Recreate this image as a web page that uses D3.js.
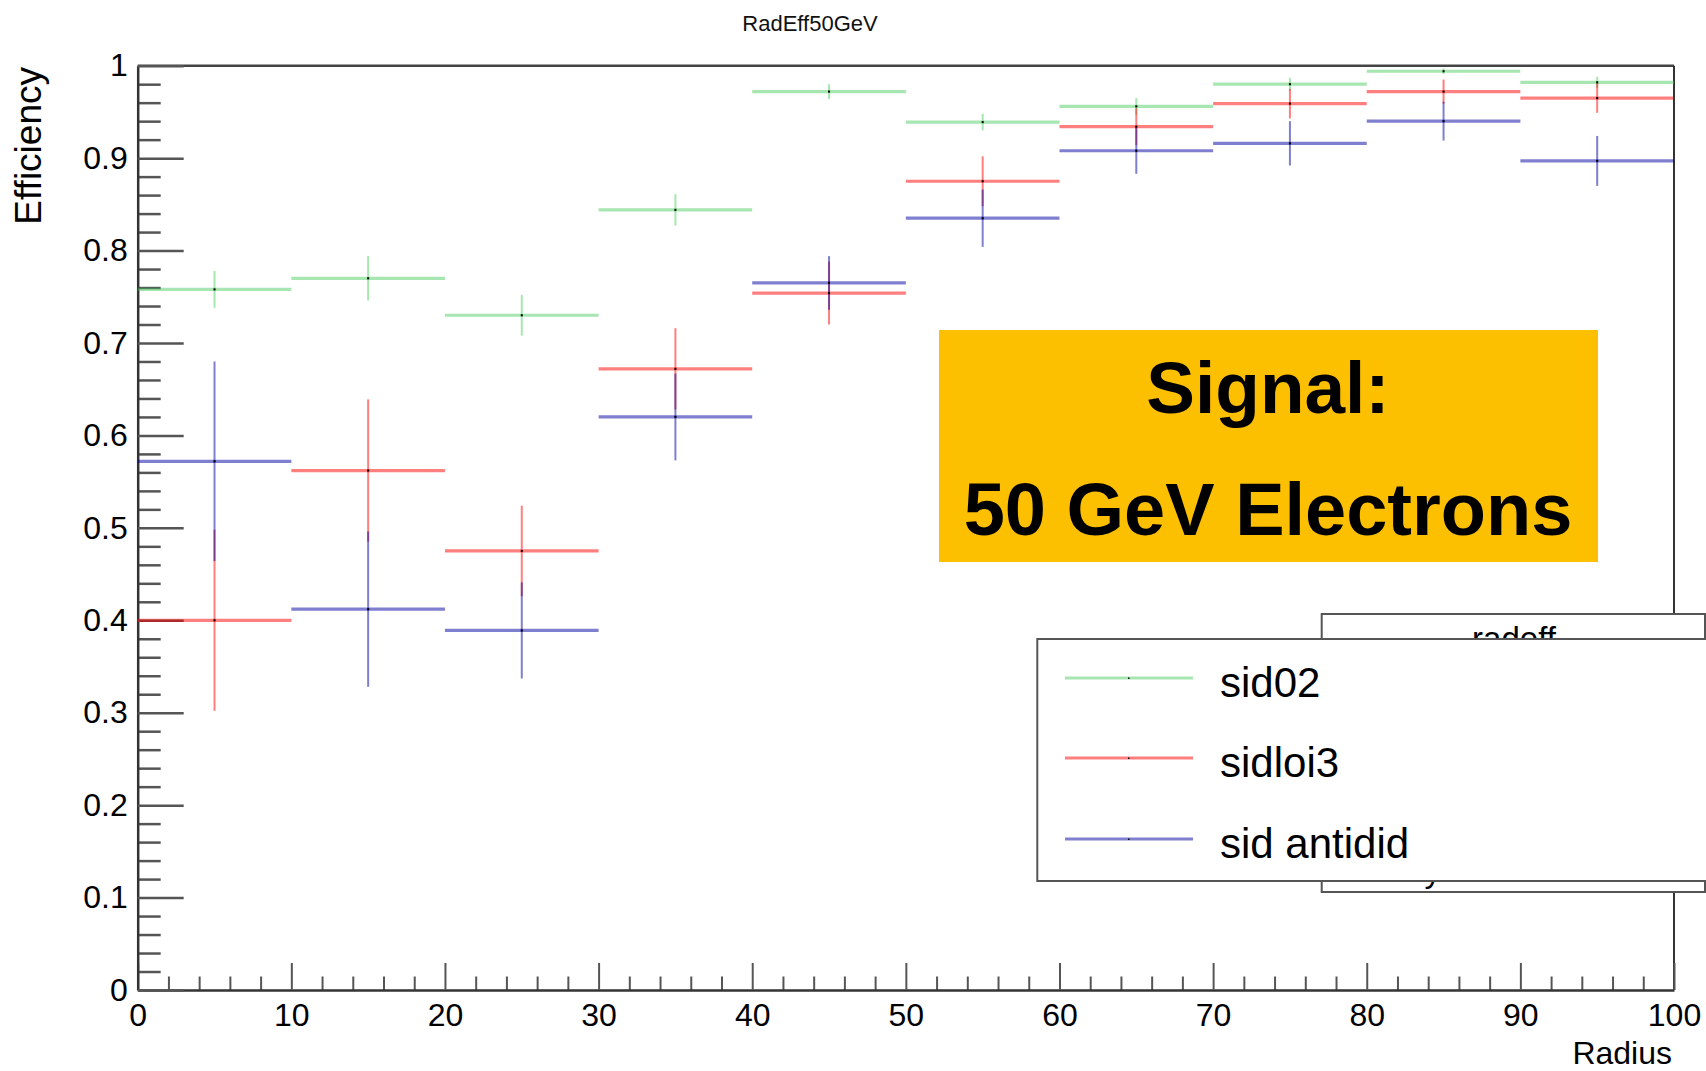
<!DOCTYPE html>
<html>
<head>
<meta charset="utf-8">
<script src="https://cdn.jsdelivr.net/npm/d3@7"></script>
<style>
  html, body { margin: 0; padding: 0; background: #fff; }
  svg { display: block; }
  text { font-family: "Liberation Sans", Arial, Helvetica, sans-serif; }
</style>
</head>
<body>
<svg id="chart" width="1706" height="1071"></svg>
<script>
// ---- data ----
const binLow = [0, 10, 20, 30, 40, 50, 60, 70, 80, 90];
const binWidth = 10;
const seriesNames = ["sid02", "sidloi3", "sid antidid"];
const sid02 = [0.758, 0.770, 0.730, 0.844, 0.972, 0.939, 0.956, 0.980, 0.994, 0.982];
const sid02Err = [0.020, 0.024, 0.022, 0.017, 0.008, 0.009, 0.009, 0.007, 0.003, 0.006];
const sidloi3 = [0.400, 0.562, 0.475, 0.672, 0.754, 0.875, 0.934, 0.959, 0.972, 0.965];
const sidloi3Err = [0.098, 0.077, 0.049, 0.044, 0.034, 0.027, 0.020, 0.016, 0.013, 0.016];
const sidAntidid = [0.572, 0.412, 0.389, 0.620, 0.765, 0.835, 0.908, 0.916, 0.940, 0.897];
const sidAntididErr = [0.108, 0.084, 0.052, 0.047, 0.029, 0.031, 0.025, 0.024, 0.021, 0.027];
const xTicks = [0, 10, 20, 30, 40, 50, 60, 70, 80, 90, 100];
const yTicks = [0, 0.1, 0.2, 0.3, 0.4, 0.5, 0.6, 0.7, 0.8, 0.9, 1];
const yTickLabels = ["0", "0.1", "0.2", "0.3", "0.4", "0.5", "0.6", "0.7", "0.8", "0.9", "1"];
const titleText = "RadEff50GeV";
const xTitle = "Radius";
const yTitle = "Efficiency";
const boxLines = ["Signal:", "50 GeV Electrons"];
const statsTitle = "radeff";
const statsRow = ["RMS y", "0.2007"];

// ---- layout / style ----
const colors = ["rgba(60,200,80,0.45)", "rgba(255,0,0,0.5)", "rgba(0,0,160,0.5)"];
const series = [
  { name: seriesNames[0], vals: sid02, errs: sid02Err, color: colors[0] },
  { name: seriesNames[1], vals: sidloi3, errs: sidloi3Err, color: colors[1] },
  { name: seriesNames[2], vals: sidAntidid, errs: sidAntididErr, color: colors[2] }
];

const svg = d3.select("#chart");
const L = 137.7, R = 1674, T = 65.7, B = 990;
const x = d3.scaleLinear().domain([0, 100]).range([L, R]);
const y = d3.scaleLinear().domain([0, 1]).range([B, T]);

// title
svg.append("text").attr("x", 810).attr("y", 31).attr("text-anchor", "middle")
  .attr("font-size", 22).attr("fill", "#111").text(titleText);

// frame top and right
svg.append("line").attr("x1", L).attr("x2", R).attr("y1", T).attr("y2", T)
  .attr("stroke", "#444").attr("stroke-width", 2.5);
svg.append("line").attr("x1", R).attr("x2", R).attr("y1", T).attr("y2", B)
  .attr("stroke", "#333").attr("stroke-width", 2);

// minor ticks
const xMinor = d3.range(0, 101, 2).filter(v => v % 10 !== 0);
const yMinor = d3.range(0, 51, 1).map(v => v / 50).filter((v, i) => i % 5 !== 0);

const gxMinor = svg.append("g").attr("transform", `translate(0,${B})`)
  .call(d3.axisBottom(x).tickValues(xMinor).tickSize(-13.5).tickFormat(""));
gxMinor.select(".domain").remove();
gxMinor.selectAll("line").attr("stroke", "#555").attr("stroke-width", 2);

const gyMinor = svg.append("g").attr("transform", `translate(${L},0)`)
  .call(d3.axisLeft(y).tickValues(yMinor).tickSize(-23).tickFormat(""));
gyMinor.select(".domain").remove();
gyMinor.selectAll("line").attr("stroke", "#555").attr("stroke-width", 2.5);

// major axes
const gx = svg.append("g").attr("transform", `translate(0,${B})`)
  .call(d3.axisBottom(x).tickValues(xTicks).tickSize(-27).tickSizeOuter(0).tickPadding(13).tickFormat(d3.format("d")));
gx.select(".domain").attr("stroke", "#333").attr("stroke-width", 2.5);
gx.selectAll(".tick line").attr("stroke", "#555").attr("stroke-width", 2);
gx.selectAll(".tick text").attr("font-size", 32).attr("fill", "#000")
  .attr("font-family", '"Liberation Sans", Arial, sans-serif');

const gy = svg.append("g").attr("transform", `translate(${L},0)`)
  .call(d3.axisLeft(y).tickValues(yTicks).tickSize(-46).tickSizeOuter(0).tickPadding(10)
    .tickFormat((d, i) => yTickLabels[i]));
gy.select(".domain").attr("stroke", "#333").attr("stroke-width", 2.5);
gy.selectAll(".tick line").attr("stroke", "#555").attr("stroke-width", 2.5);
gy.selectAll(".tick text").attr("font-size", 32).attr("fill", "#000")
  .attr("font-family", '"Liberation Sans", Arial, sans-serif');

// axis titles
svg.append("text").attr("x", 1672).attr("y", 1064).attr("text-anchor", "end")
  .attr("font-size", 32).attr("fill", "#000").text(xTitle);
svg.append("text").attr("transform", "translate(41,67) rotate(-90)").attr("text-anchor", "end")
  .attr("font-size", 37).attr("fill", "#000").text(yTitle);

// data: horizontal bin lines, vertical error bars, markers
series.forEach(s => {
  const g = svg.append("g");
  binLow.forEach((lo, i) => {
    const v = s.vals[i], e = s.errs[i], c = lo + binWidth / 2;
    g.append("line").attr("x1", x(lo)).attr("x2", x(lo + binWidth))
      .attr("y1", y(v)).attr("y2", y(v)).attr("stroke", s.color).attr("stroke-width", 3.2);
    g.append("line").attr("x1", x(c)).attr("x2", x(c))
      .attr("y1", y(v + e)).attr("y2", y(v - e)).attr("stroke", s.color).attr("stroke-width", 2);
  });
});
series.forEach(s => {
  binLow.forEach((lo, i) => {
    svg.append("rect").attr("x", x(lo + binWidth / 2) - 1).attr("y", y(s.vals[i]) - 1)
      .attr("width", 2).attr("height", 2).attr("fill", "#000");
  });
});

// orange annotation box
svg.append("rect").attr("x", 939).attr("y", 330).attr("width", 659).attr("height", 232)
  .attr("fill", "#FDC000");
svg.append("text").attr("x", 1268).attr("y", 413).attr("text-anchor", "middle")
  .attr("font-size", 73).attr("font-weight", "bold").attr("fill", "#000").text(boxLines[0]);
svg.append("text").attr("x", 1268).attr("y", 535).attr("text-anchor", "middle")
  .attr("font-size", 74).attr("font-weight", "bold").attr("fill", "#000").text(boxLines[1]);

// stats box (behind legend)
svg.append("rect").attr("x", 1321.7).attr("y", 614).attr("width", 383.3).attr("height", 278)
  .attr("fill", "#fff").attr("stroke", "#555").attr("stroke-width", 2);
svg.append("text").attr("x", 1514).attr("y", 650).attr("text-anchor", "middle")
  .attr("font-size", 33).attr("fill", "#000").text(statsTitle);
svg.append("text").attr("x", 1342).attr("y", 882).attr("font-size", 33).attr("fill", "#000").text(statsRow[0]);
svg.append("text").attr("x", 1677).attr("y", 882).attr("text-anchor", "end")
  .attr("font-size", 33).attr("fill", "#000").text(statsRow[1]);

// legend
const legY = [678, 758, 839];
svg.append("rect").attr("x", 1037.3).attr("y", 639).attr("width", 700).attr("height", 242)
  .attr("fill", "#fff").attr("stroke", "#555").attr("stroke-width", 2);
series.forEach((s, i) => {
  svg.append("line").attr("x1", 1065).attr("x2", 1193).attr("y1", legY[i]).attr("y2", legY[i])
    .attr("stroke", s.color).attr("stroke-width", 3.2);
  svg.append("rect").attr("x", 1128).attr("y", legY[i] - 0.5).attr("width", 1.5).attr("height", 1.5).attr("fill", "#000");
  svg.append("text").attr("x", 1220).attr("y", legY[i] + 19).attr("font-size", 42)
    .attr("fill", "#000").text(s.name);
});
</script>
</body>
</html>
